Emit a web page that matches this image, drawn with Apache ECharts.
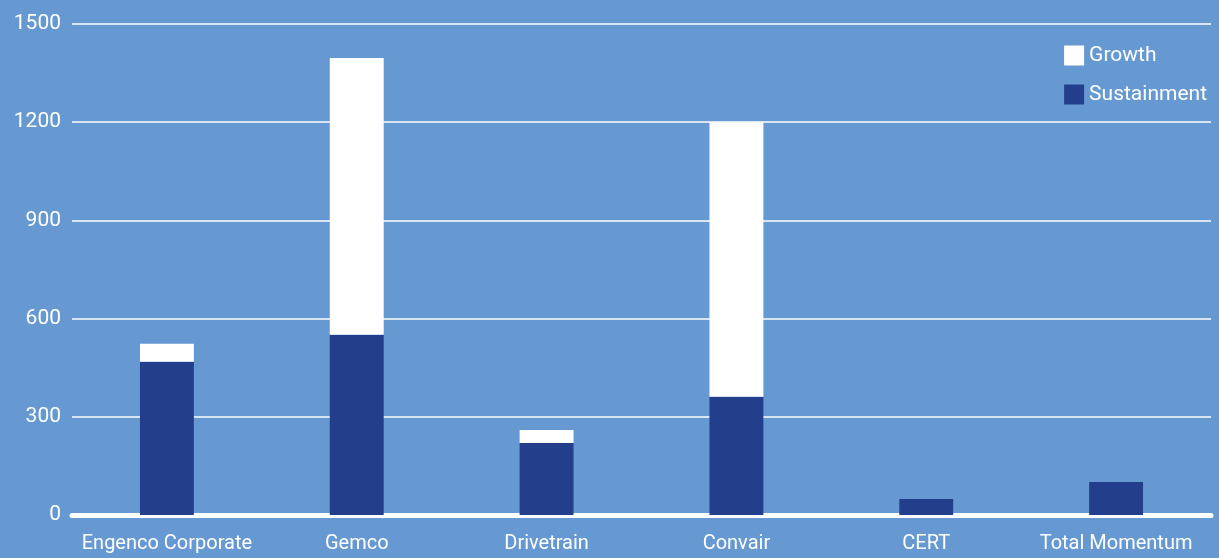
<!DOCTYPE html>
<html><head><meta charset="utf-8">
<script src="https://cdn.jsdelivr.net/npm/echarts@6/dist/echarts.min.js"></script>
<style>html,body{margin:0;padding:0;background:#6699d1;}#c{width:1219px;height:558px;}</style>
</head><body><div id="c"></div>
<script>
const categories = ['Engenco Corporate','Gemco','Drivetrain','Convair','CERT','Total Momentum'];
const sustainment = [468, 551, 220, 361, 49, 101];
const growth = [55, 845, 40, 839, 0, 0];
const yTicks = [0, 300, 600, 900, 1200, 1500];

const FONT = 'Roboto, "Liberation Sans", sans-serif';
const chart = echarts.init(document.getElementById('c'), null, {renderer:'canvas'});
chart.setOption({
  backgroundColor: '#6699d1',
  animation: false,
  textStyle: {fontFamily: FONT},
  grid: {left: 72, right: 8, top: 24, bottom: 43, containLabel: false},
  legend: {
    right: 7, top: 40, orient: 'vertical', itemWidth: 20, itemHeight: 20, itemGap: 18,
    icon: 'rect',
    textStyle: {color: '#ffffff', fontSize: 21, fontFamily: FONT},
    data: ['Growth','Sustainment']
  },
  xAxis: {
    type: 'category', data: categories,
    axisLine: {show: true, lineStyle: {color: '#ffffff', width: 5}},
    axisTick: {show: false},
    axisLabel: {color: '#ffffff', fontSize: 20, fontFamily: FONT, margin: 19, interval: 0}
  },
  yAxis: {
    type: 'value', min: yTicks[0], max: yTicks[yTicks.length-1], interval: 300,
    axisLine: {show: false}, axisTick: {show: false},
    splitLine: {lineStyle: {color: '#ffffff', width: 1.5}},
    axisLabel: {color: '#ffffff', fontSize: 21, fontFamily: FONT, margin: 11,
      padding: [0, 0, 8, 0], formatter: v => String(v)}
  },
  series: [
    {name: 'Sustainment', type: 'bar', stack: 't', data: sustainment, barWidth: '28.4%',
     itemStyle: {color: '#233f8c'}},
    {name: 'Growth', type: 'bar', stack: 't', data: growth, barWidth: '28.4%',
     itemStyle: {color: '#ffffff'}}
  ]
});
</script></body></html>
